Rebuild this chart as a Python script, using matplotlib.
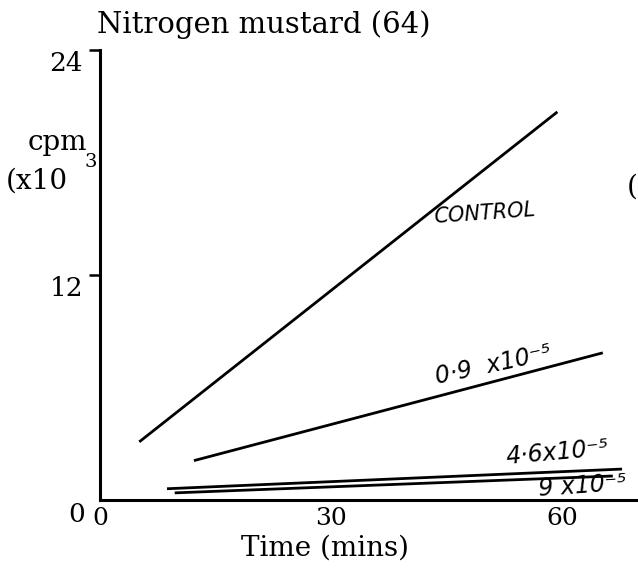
import matplotlib
matplotlib.use("Agg")
import matplotlib.pyplot as plt

# Incorporation time courses (cpm x 10^3) for each nitrogen mustard dose
series_names = ["CONTROL", "0·9  x10⁻⁵", "4·6x10⁻⁵", "9 x10⁻⁵"]
series_time = [[5.1, 59.4], [12.2, 65.3], [8.7, 67.8], [9.7, 66.6]]
series_cpm = [[3.1, 20.7], [2.1, 7.85], [0.6, 1.65], [0.38, 1.28]]

x_ticks = [0, 30, 60]
y_ticks = [12, 24]

W, H = 638, 576
fig = plt.figure(figsize=(W / 100, H / 100), dpi=100)
fig.patch.set_facecolor("white")

serif = ["DejaVu Serif"]
hand = dict(family=["DejaVu Sans"], style="italic", color="black",
            fontsize=17, ha="left", va="baseline")

# axes box in pixel units: y-axis at x=100, x-axis at y=500, top (24) at y=50
left, right, bottom, top = 100, 638, 500, 50
ax = fig.add_axes([left / W, 1 - bottom / H, (right - left) / W, (bottom - top) / H])
px_per_min = 7.7
ax.set_xlim(0, (right - left) / px_per_min)
ax.set_ylim(0, 24)

for t, c in zip(series_time, series_cpm):
    ax.plot(t, c, color="black", lw=2.0, solid_capstyle="butt")

for side in ["top", "right"]:
    ax.spines[side].set_visible(False)
for side in ["left", "bottom"]:
    ax.spines[side].set_linewidth(2.2)
    ax.spines[side].set_color("black")

ax.set_xticks(x_ticks)
ax.set_xticklabels([str(v) for v in x_ticks], family=serif, fontsize=18)
ax.tick_params(axis="x", length=0, pad=5)

# y tick labels hang just below their ticks
ax.set_yticks(y_ticks)
ax.set_yticklabels([])
ax.tick_params(axis="y", length=8, width=1.8, direction="out")
for v in y_ticks:
    ax.annotate(str(v), (0, v), xytext=(-17, -1), textcoords="offset pixels",
                family=serif, fontsize=19, ha="right", va="top")
ax.annotate("0", (0, 0), xytext=(-15, -2), textcoords="offset pixels",
            family=serif, fontsize=19, ha="right", va="top")

fig.text(97 / W, 1 - 25 / H, "Nitrogen mustard (64)", family=serif,
         fontsize=21, ha="left", va="center")
fig.text(325 / W, 1 - 548 / H, "Time (mins)", family=serif,
         fontsize=20, ha="center", va="center")
fig.text(28 / W, 1 - 143 / H, "cpm", family=serif, fontsize=20,
         ha="left", va="center")
fig.text(84 / W, 1 - 162 / H, "3", family=serif, fontsize=14,
         ha="left", va="center")
fig.text(6 / W, 1 - 181 / H, "(x10", family=serif, fontsize=20,
         ha="left", va="center")
fig.text(632 / W, 1 - 187 / H, "(", family=serif, fontsize=20,
         ha="center", va="center")

# handwritten dose labels beside each line
ax.text(43.2, 14.8, series_names[0], rotation=4, **{**hand, "fontsize": 15})
ax.text(43.3, 6.2, series_names[1], rotation=12, **hand)
ax.text(52.6, 1.9, series_names[2], rotation=5, **hand)
ax.text(56.8, 0.22, series_names[3], rotation=4, **hand)

fig.savefig("out.png", dpi=100, facecolor="white")
